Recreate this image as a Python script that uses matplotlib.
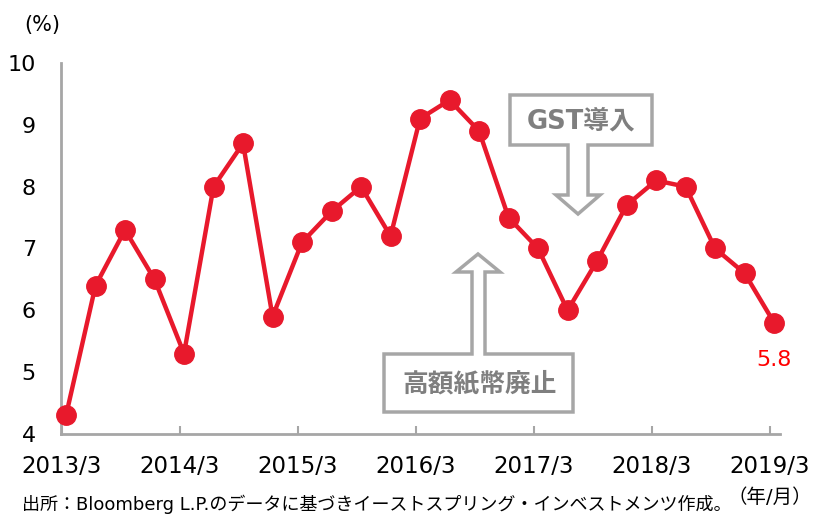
import matplotlib
matplotlib.use('agg')
import matplotlib.pyplot as plt
from matplotlib.patches import Polygon

plt.rcParams['font.family'] = ['DejaVu Sans', 'Noto Sans CJK JP']

# quarterly values, 2013/3 .. 2019/3
periods = ['2013/3', '2013/6', '2013/9', '2013/12',
           '2014/3', '2014/6', '2014/9', '2014/12',
           '2015/3', '2015/6', '2015/9', '2015/12',
           '2016/3', '2016/6', '2016/9', '2016/12',
           '2017/3', '2017/6', '2017/9', '2017/12',
           '2018/3', '2018/6', '2018/9', '2018/12',
           '2019/3']
rates = [4.3, 6.4, 7.3, 6.5,
         5.3, 8.0, 8.7, 5.9,
         7.1, 7.6, 8.0, 7.2,
         9.1, 9.4, 8.9, 7.5,
         7.0, 6.0, 6.8, 7.7,
         8.1, 8.0, 7.0, 6.6,
         5.8]
tick_labels = [p for p in periods if p.endswith('/3')]
y_ticks = [4, 5, 6, 7, 8, 9, 10]

RED = '#E8192C'
GRAY = '#A6A6A6'
W, H = 816, 515

fig = plt.figure(figsize=(W / 100, H / 100), dpi=100)
ax = fig.add_axes([61 / W, 81 / H, (780 - 61) / W, (452 - 81) / H])

x = list(range(len(rates)))
ax.plot(x, rates, color=RED, lw=3.2, marker='o', ms=14, mfc=RED, mec=RED,
        solid_capstyle='round', zorder=3, clip_on=False)
ax.annotate(f'{rates[-1]}', (x[-1], rates[-1]), xytext=(0, -20),
            textcoords='offset points', ha='center', va='top',
            color='#FF0000', fontsize=16)

ax.set_xlim(-0.17, 24.2)
ax.set_ylim(4, 10)
ax.set_yticks(y_ticks)
ax.set_yticklabels([str(v) for v in y_ticks], fontsize=16)
ticks_x = [periods.index(t) - 0.15 for t in tick_labels]
ax.set_xticks(ticks_x)
ax.set_xticklabels(tick_labels, fontsize=16.5)

for s in ['top', 'right']:
    ax.spines[s].set_visible(False)
for s in ['left', 'bottom']:
    ax.spines[s].set_color(GRAY)
    ax.spines[s].set_linewidth(2)
ax.tick_params(axis='y', length=0, pad=18, colors='black')
ax.tick_params(axis='x', direction='in', length=6, width=1.5, color=GRAY, pad=15)

fig.text(42 / W, 1 - 25 / H, '(%)', fontsize=15, ha='center', va='center')
fig.text(812 / W, 1 - 497 / H, '（年/月）', fontsize=14, ha='right', va='center')
fig.text(22 / W, 1 - 504 / H,
         '出所：Bloomberg L.P.のデータに基づきイーストスプリング・インベストメンツ作成。',
         fontsize=13, ha='left', va='center')


def callout(pts, text, tx, ty):
    poly = Polygon([(px / W, 1 - py / H) for px, py in pts], closed=True,
                   transform=fig.transFigure, facecolor='white',
                   edgecolor=GRAY, lw=2.5, joinstyle='miter', zorder=5)
    fig.patches.append(poly)
    fig.text(tx / W, 1 - ty / H, text, fontsize=18.5, fontweight='bold',
             color='#7F7F7F', ha='center', va='center', zorder=6)


# GST box with down arrow
callout([(510, 95), (652, 95), (652, 145), (588, 145), (588, 195),
         (600, 195), (578, 214), (556, 195), (568, 195), (568, 145),
         (510, 145)], 'GST導入', 581, 121)

# demonetisation box with up arrow
callout([(384, 354), (472, 354), (472, 272), (456, 272), (478, 254),
         (500, 272), (485, 272), (485, 354), (573, 354), (573, 412),
         (384, 412)], '高額紙幣廃止', 480, 385)

fig.savefig('out.png', dpi=100)
